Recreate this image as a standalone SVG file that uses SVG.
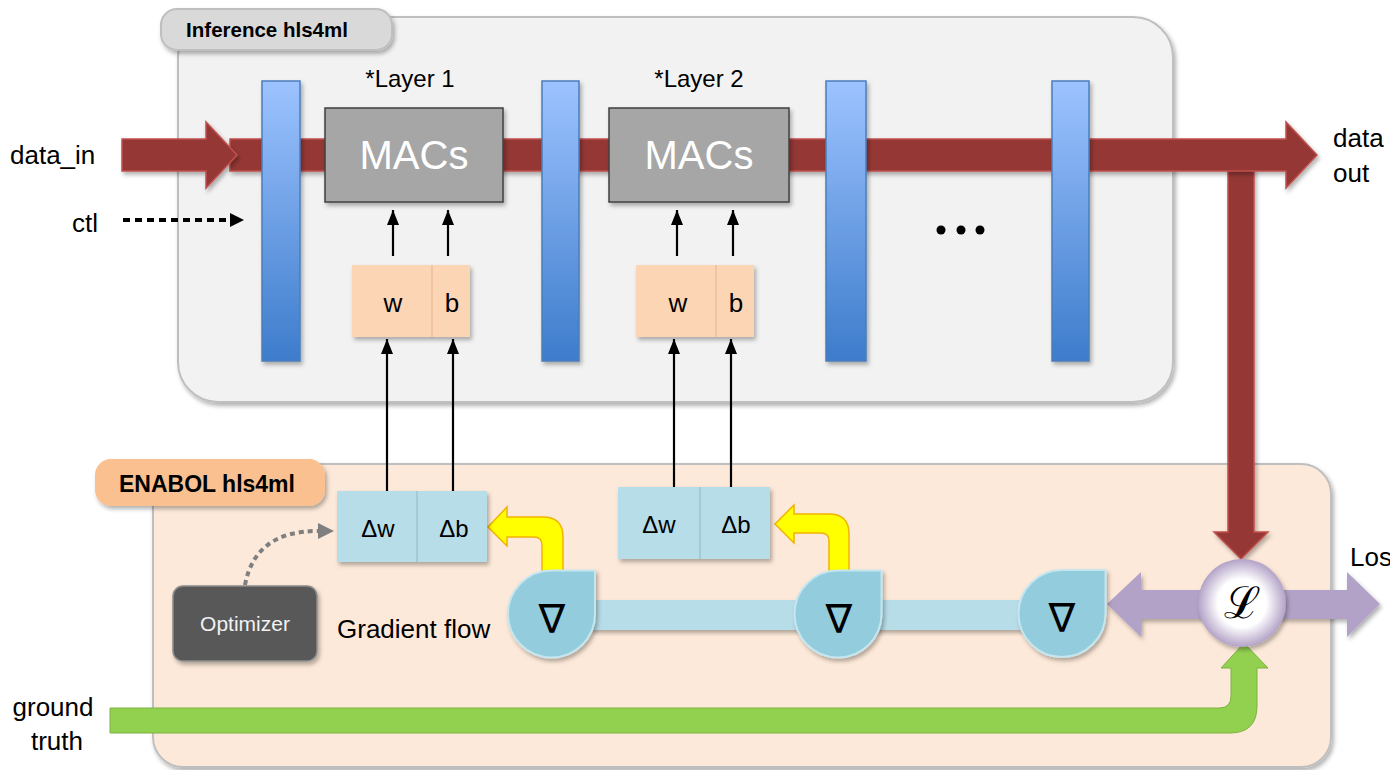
<svg xmlns="http://www.w3.org/2000/svg" width="1390" height="770" viewBox="0 0 1390 770">
<defs>
<filter id="sh" x="-20%" y="-20%" width="140%" height="140%"><feDropShadow dx="2" dy="3" stdDeviation="2" flood-color="#000" flood-opacity="0.3"/></filter>
<linearGradient id="bar" x1="0" y1="0" x2="0" y2="1"><stop offset="0" stop-color="#9dc3ff"/><stop offset="1" stop-color="#3d7ccb"/></linearGradient>
<radialGradient id="loss" cx="0.5" cy="0.5" r="0.5"><stop offset="0" stop-color="#ffffff"/><stop offset="0.55" stop-color="#ffffff"/><stop offset="1" stop-color="#b3a2c7"/></radialGradient>
<marker id="ah" viewBox="0 0 15 12" refX="15" refY="6" markerWidth="15" markerHeight="12" markerUnits="userSpaceOnUse" orient="auto"><path d="M0,0 L15,6 L0,12 Z" fill="#000"/></marker>
<style>
text{font-family:"Liberation Sans",Arial,sans-serif;fill:#000}
.lbl{font-size:26px}
.bold{font-weight:bold}
.barr{fill:url(#bar);stroke:#4a7ebb;stroke-width:1.5;filter:url(#sh)}
.mac{fill:#a6a6a6;stroke:#404040;stroke-width:1.5;filter:url(#sh)}
.mact{font-size:40px;fill:#fff;text-anchor:middle}
.wb{fill:#fcd5b5;filter:url(#sh)}
.wbt{font-size:26px;text-anchor:middle}
.dl{fill:#b7dde8;filter:url(#sh)}
.sep{stroke:#8fb8c4;stroke-width:1}
.dt{font-size:24px;text-anchor:middle}
.nab{fill:#93cddd;stroke:#c5e6ef;stroke-width:2;filter:url(#sh)}
.nabt{font-family:"DejaVu Sans",sans-serif;font-size:40px;text-anchor:middle}
.blk{stroke:#000;stroke-width:2.2;fill:none}
.red{fill:#953735;stroke:#c0504d;stroke-width:1.5;filter:url(#sh)}
.yel{fill:#ffff00;stroke:#f0b400;stroke-width:1.5}
</style>
</defs>

<g id="panel-inference">
<rect x="178" y="17" width="995" height="385" rx="40" fill="#f2f2f2" stroke="#bfbfbf" stroke-width="2" filter="url(#sh)"/>
<rect x="161" y="9" width="231" height="41" rx="16" fill="#d9d9d9" stroke="#bfbfbf" stroke-width="2" filter="url(#sh)"/>
<text x="267" y="37" class="bold" font-size="20.5" text-anchor="middle">Inference hls4ml</text>
</g>
<g id="panel-enabol">
<rect x="153" y="464" width="1178" height="303" rx="30" fill="#fde9d9" stroke="#bfbfbf" stroke-width="2" filter="url(#sh)"/>
<rect x="95" y="459" width="230" height="47" rx="16" fill="#fac090" filter="url(#sh)"/>
<text x="207" y="492" class="bold" font-size="23" text-anchor="middle">ENABOL hls4ml</text>
</g>

<g id="connectors">
<!-- gradient flow bar -->
<rect x="590" y="600" width="440" height="30" fill="#b7dde8" filter="url(#sh)"/>
<!-- purple loss double arrow -->
<path d="M1107,604 L1141,572 V590 H1347 V572 L1380,604 L1347,637 V619 H1141 V637 Z" fill="#b3a2c7" filter="url(#sh)"/>
<!-- red down arrow to loss -->
<path class="red" d="M1228,168 H1254 V532 H1268 L1241,559 L1214,532 H1228 Z"/>
<!-- main data band -->
<path class="red" d="M230,139 H1286 V122 L1317,155 L1286,188 V171 H230 Z"/>
<!-- data_in arrow -->
<path class="red" d="M122,139 H206 V122 L237,155 L206,188 V171 H122 Z"/>
<!-- ctl dotted arrow -->
<line x1="123" y1="220" x2="231" y2="220" stroke="#000" stroke-width="4" stroke-dasharray="7 5"/>
<path d="M230,213 L244,220 L230,227 Z" fill="#000"/>
<!-- green ground truth -->
<path d="M110,708 H1219 Q1231,708 1231,696 V668 H1221 L1244,643 L1268,668 H1257 V706 Q1257,733 1230,733 H110 Z" fill="#92d050" stroke="#7db23f" stroke-width="1"/>
<!-- yellow gradient arrows -->
<path class="yel" d="M542,574 V545 Q542,537 534,537 H507 V546 L488,527 L507,507 V517 H543 Q563,517 563,537 V574 Z"/>
<path class="yel" d="M829,572 V541 Q829,533 821,533 H794 V543 L775,524 L794,505 V514 H829 Q849,514 849,534 V572 Z"/>
<!-- optimizer dotted curve -->
<path d="M245,585 Q255,531 318,531" fill="none" stroke="#7f7f7f" stroke-width="4" stroke-dasharray="5 4"/>
<path d="M318,523 L334,531 L318,539 Z" fill="#7f7f7f"/>
<!-- w/b to MACs -->
<line class="blk" x1="393" y1="256" x2="393" y2="210" marker-end="url(#ah)"/>
<line class="blk" x1="448" y1="256" x2="448" y2="210" marker-end="url(#ah)"/>
<line class="blk" x1="677" y1="256" x2="677" y2="210" marker-end="url(#ah)"/>
<line class="blk" x1="733" y1="256" x2="733" y2="210" marker-end="url(#ah)"/>
<!-- deltas to w/b -->
<line class="blk" x1="387" y1="491" x2="387" y2="339" marker-end="url(#ah)"/>
<line class="blk" x1="453" y1="491" x2="453" y2="339" marker-end="url(#ah)"/>
<line class="blk" x1="674" y1="487" x2="674" y2="339" marker-end="url(#ah)"/>
<line class="blk" x1="731" y1="487" x2="731" y2="339" marker-end="url(#ah)"/>
</g>

<g id="bar1"><rect class="barr" x="262" y="81" width="38" height="280"/></g>
<g id="bar2"><rect class="barr" x="542" y="81" width="37" height="280"/></g>
<g id="bar3"><rect class="barr" x="826" y="81" width="40" height="280"/></g>
<g id="bar4"><rect class="barr" x="1052" y="81" width="37" height="280"/></g>

<g id="layer1-macs">
<text x="410" y="87" font-size="24" text-anchor="middle">*Layer 1</text>
<rect class="mac" x="325" y="108" width="178" height="94"/>
<text class="mact" x="414" y="169">MACs</text>
</g>
<g id="layer2-macs">
<text x="699" y="87" font-size="24" text-anchor="middle">*Layer 2</text>
<rect class="mac" x="609" y="108" width="180" height="94"/>
<text class="mact" x="699" y="169">MACs</text>
</g>

<g id="ellipsis">
<circle cx="941" cy="230" r="4.5"/><circle cx="961" cy="230" r="4.5"/><circle cx="980" cy="230" r="4.5"/>
</g>

<g id="layer1-wb">
<rect class="wb" x="352" y="265" width="118" height="72"/>
<line x1="432" y1="265" x2="432" y2="337" stroke="#e8b894" stroke-width="1.2"/>
<text class="wbt" x="393" y="312">w</text>
<text class="wbt" x="452" y="312">b</text>
</g>
<g id="layer2-wb">
<rect class="wb" x="636" y="265" width="118" height="72"/>
<line x1="716" y1="265" x2="716" y2="337" stroke="#e8b894" stroke-width="1.2"/>
<text class="wbt" x="678" y="312">w</text>
<text class="wbt" x="736" y="312">b</text>
</g>

<g id="layer1-delta">
<rect class="dl" x="337" y="491" width="150" height="71"/>
<line class="sep" x1="417" y1="491" x2="417" y2="562"/>
<text class="dt" x="378" y="537">Δw</text>
<text class="dt" x="454" y="537" font-size="22">Δb</text>
</g>
<g id="layer2-delta">
<rect class="dl" x="618" y="487" width="152" height="72"/>
<line class="sep" x1="700" y1="487" x2="700" y2="559"/>
<text class="dt" x="659" y="533">Δw</text>
<text class="dt" x="736" y="533" font-size="22">Δb</text>
</g>

<g id="grad1">
<path class="nab" d="M551.5,570.5 H595 V614 A43.5,43.5 0 1 1 551.5,570.5 Z"/>
<text class="nabt" x="552" y="633">∇</text>
</g>
<g id="grad2">
<path class="nab" d="M838,570.5 H881.5 V614 A43.5,43.5 0 1 1 838,570.5 Z"/>
<text class="nabt" x="839" y="633">∇</text>
</g>
<g id="grad3">
<path class="nab" d="M1062,570 H1105.5 V613.5 A43.5,43.5 0 1 1 1062,570 Z"/>
<text class="nabt" x="1062" y="632">∇</text>
</g>

<g id="loss">
<circle cx="1242" cy="603" r="44" fill="url(#loss)" filter="url(#sh)"/>
<text x="1242" y="618" font-family="DejaVu Sans, sans-serif" font-size="44" text-anchor="middle">ℒ</text>
</g>

<g id="optimizer">
<rect x="173" y="586" width="144" height="75" rx="10" fill="#595959" stroke="#8c8c8c" stroke-width="1.5" filter="url(#sh)"/>
<text x="245" y="631" font-size="21" style="fill:#f2f2f2" text-anchor="middle">Optimizer</text>
</g>

<g id="labels">
<text class="lbl" x="10" y="164">data_in</text>
<text class="lbl" x="98" y="232" text-anchor="end">ctl</text>
<text class="lbl" x="1333" y="147">data</text>
<text class="lbl" x="1333" y="182">out</text>
<text class="lbl" x="53" y="716" text-anchor="middle">ground</text>
<text class="lbl" x="57" y="750" text-anchor="middle">truth</text>
<text class="lbl" x="1350" y="566" font-size="24">Los</text>
<text class="lbl" x="337" y="638">Gradient flow</text>
</g>
</svg>
